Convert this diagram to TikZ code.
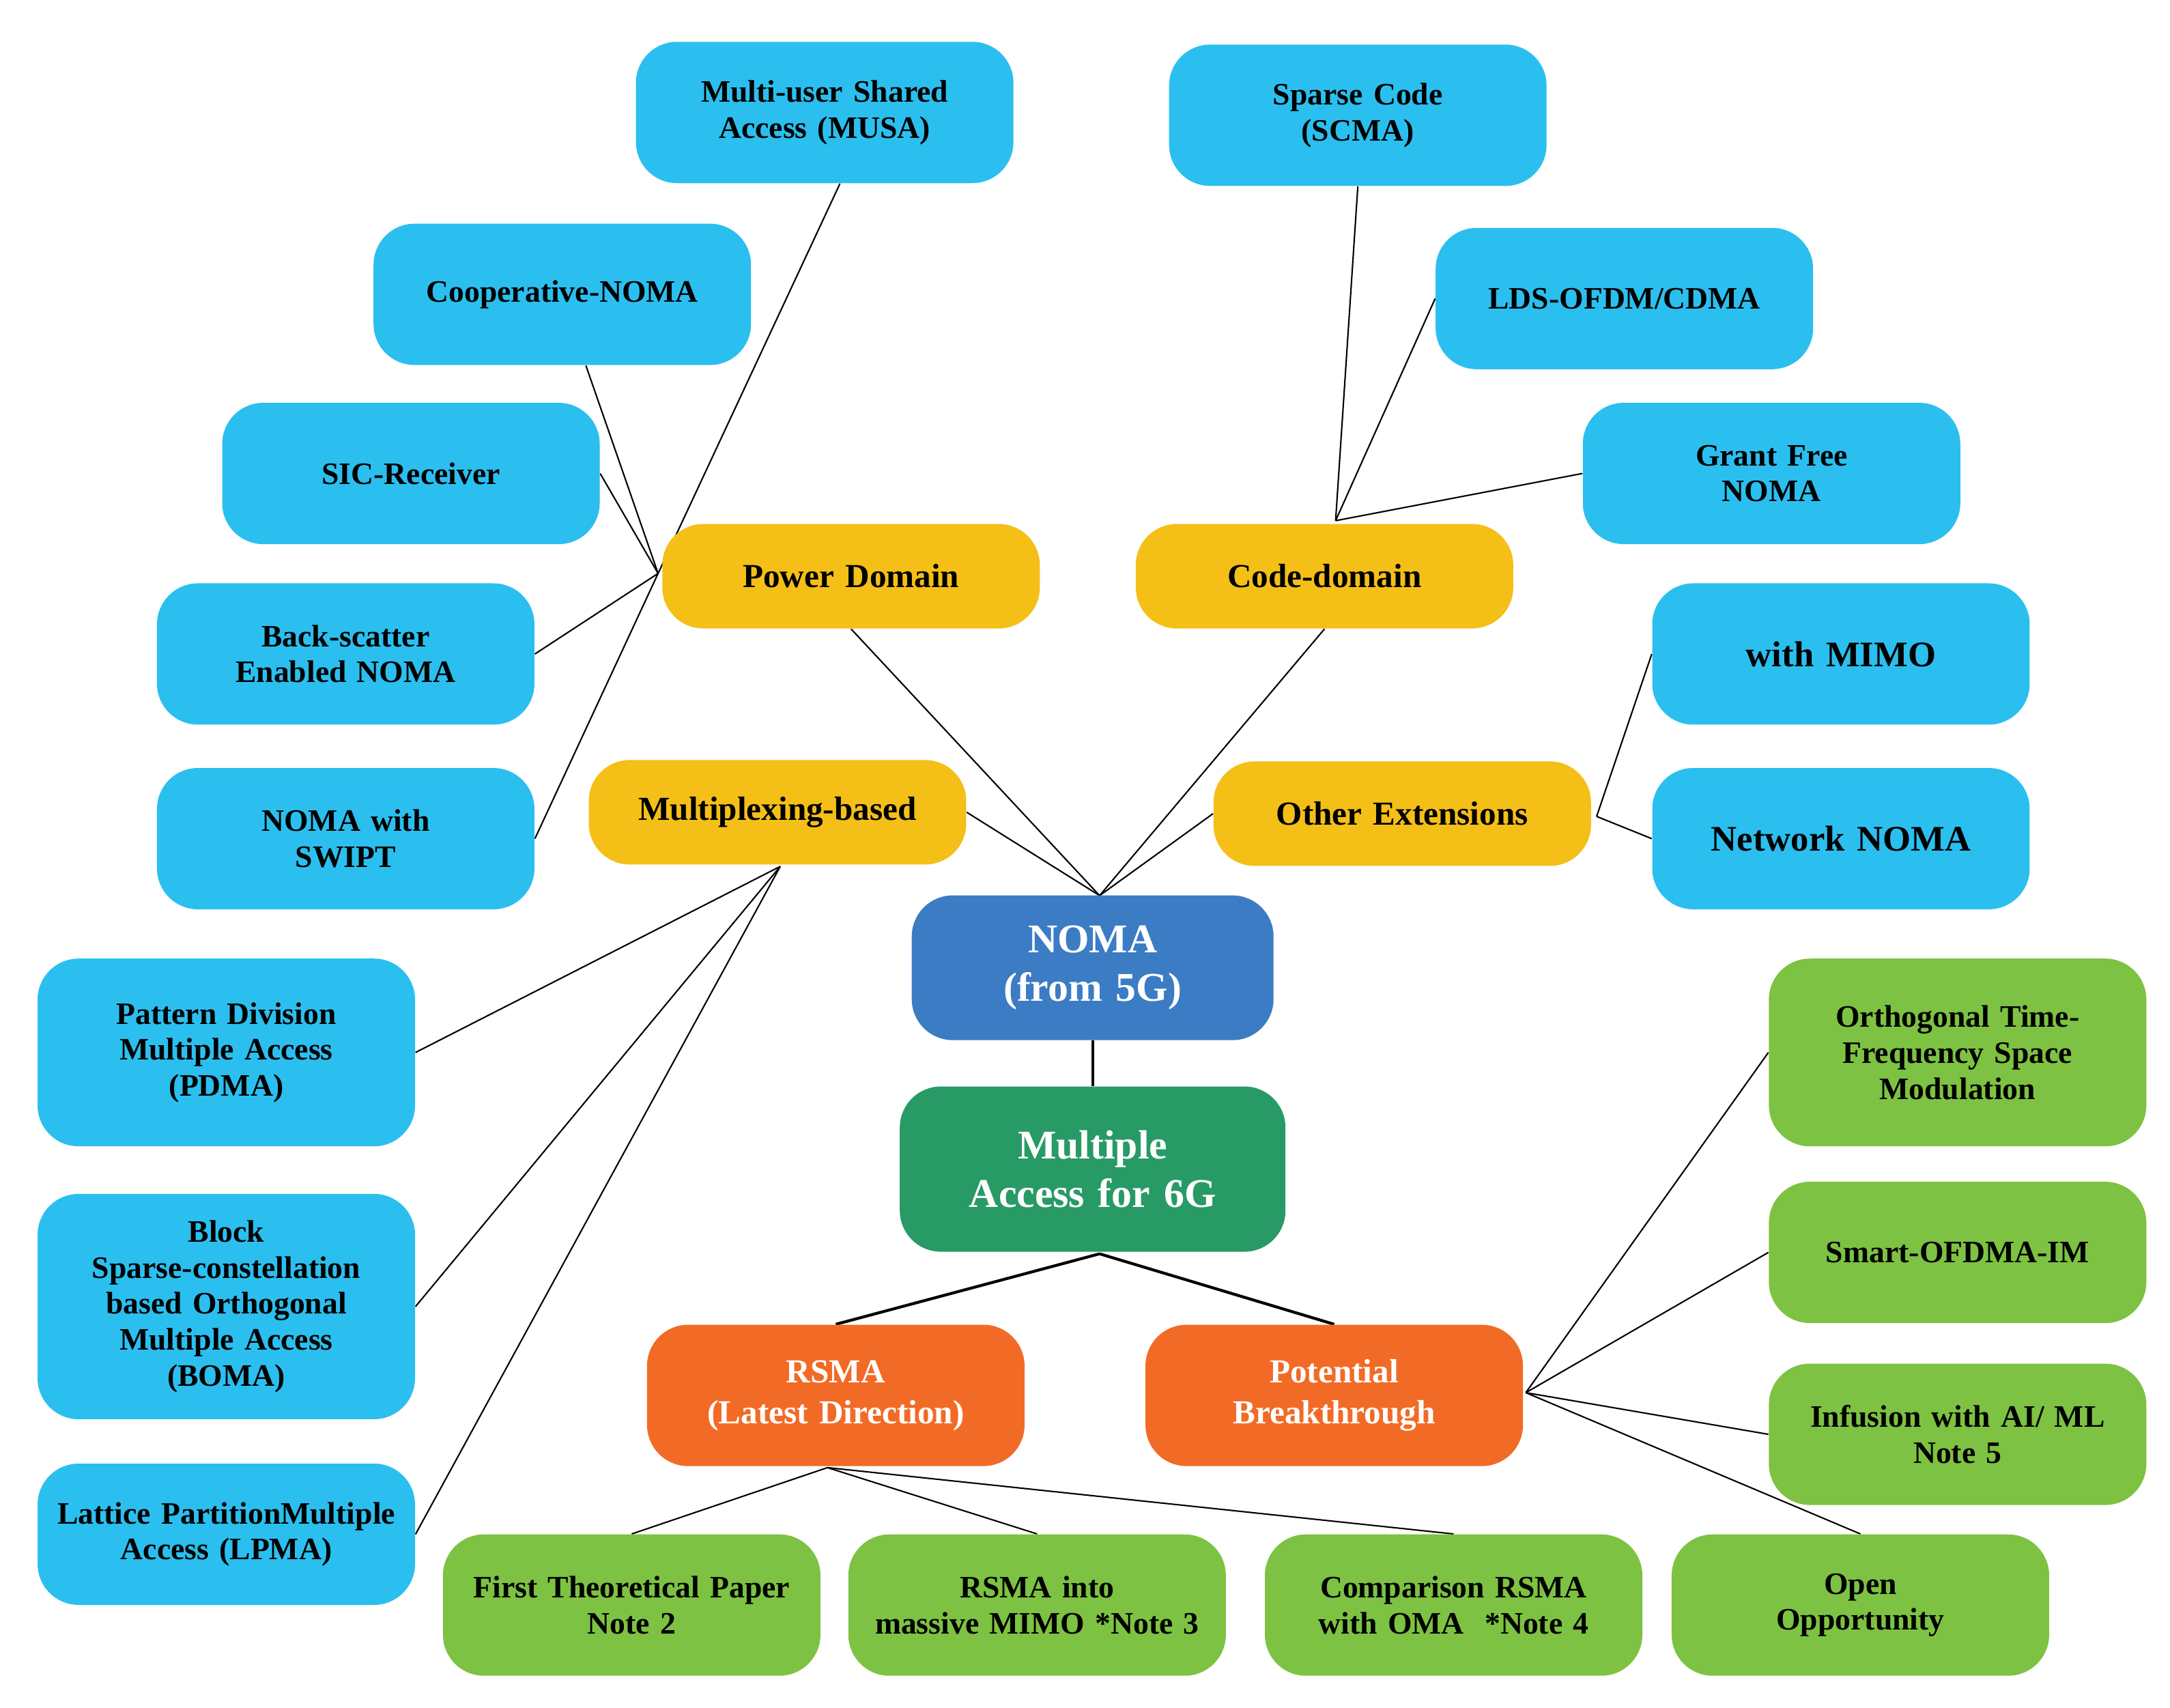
\documentclass[tikz,border=0pt]{standalone}
\usepackage{fontspec}
\setmainfont{Liberation Serif}
\usetikzlibrary{backgrounds}
\definecolor{skyblue}{HTML}{2BBFEF}
\definecolor{gold}{HTML}{F4BF17}
\definecolor{leaf}{HTML}{7DC242}
\definecolor{tangerine}{HTML}{F26B26}
\definecolor{steel}{HTML}{3B7CC4}
\definecolor{jade}{HTML}{289A66}
\begin{document}
\begin{tikzpicture}[x=0.2034mm,y=-0.2034mm,
		box/.style={rounded corners=6mm,inner sep=0pt,minimum width=5.53cm,minimum height=2.07cm,
			text width=5.3cm,align=center,font=\bfseries\fontsize{13}{15}\selectfont},
		leaf box/.style={box,fill=skyblue},
		domain box/.style={box,fill=gold,minimum height=1.53cm,font=\bfseries\fontsize{14}{16}\selectfont},
		green box/.style={box,fill=leaf},
		rsma box/.style={box,fill=tangerine,text=white,font=\bfseries\fontsize{14}{17}\selectfont},
		link/.style={line width=0.6pt}]
		\useasboundingbox (0,0) rectangle (1563,1230);
		% top level
		\node[box,fill=steel,text=white,minimum width=5cm,minimum height=2.12cm,font=\bfseries\fontsize{17}{20}\selectfont] (noma) at (787,697) {NOMA\\(from 5G)};
		\node[box,fill=jade,text=white,minimum width=5.65cm,minimum height=2.42cm,font=\bfseries\fontsize{17}{20}\selectfont] (ma) at (787,842) {Multiple\\Access for 6G};
		% NOMA domains
		\node[domain box] (power) at (613,415) {Power Domain};
		\node[domain box] (code) at (954,415) {Code-domain};
		\node[domain box] (mux) at (560,585) {Multiplexing-based};
		\node[domain box] (other) at (1010,586) {Other Extensions};
		% power domain leaves
		\node[leaf box] (musa) at (594,81) {Multi-user Shared\\Access (MUSA)};
		\node[leaf box] (coop) at (405,212) {Cooperative-NOMA};
		\node[leaf box] (sic) at (296,341) {SIC-Receiver};
		\node[leaf box] (backscatter) at (249,471) {Back-scatter\\Enabled NOMA};
		\node[leaf box] (swipt) at (249,604) {NOMA with\\SWIPT};
		% code domain leaves
		\node[leaf box] (scma) at (978,83) {Sparse Code\\(SCMA)};
		\node[leaf box] (lds) at (1170,215) {LDS-OFDM/CDMA};
		\node[leaf box] (grant) at (1276,341) {Grant Free\\NOMA};
		% other extensions
		\node[leaf box,font=\bfseries\fontsize{15}{17}\selectfont] (mimo) at (1326,471) {with MIMO};
		\node[leaf box,font=\bfseries\fontsize{15}{17}\selectfont] (network) at (1326,604) {Network NOMA};
		% multiplexing leaves
		\node[leaf box,minimum height=2.75cm] (pdma) at (163,758) {Pattern Division\\Multiple Access\\(PDMA)};
		\node[leaf box,minimum height=3.3cm] (boma) at (163,941) {Block\\Sparse-constellation\\based Orthogonal\\Multiple Access\\(BOMA)};
		\node[leaf box] (lpma) at (163,1105) {Lattice PartitionMultiple\\Access (LPMA)};
		% 6G branches
		\node[rsma box] (rsma) at (602,1005) {RSMA\\(Latest Direction)};
		\node[rsma box] (potential) at (961,1005) {Potential\\Breakthrough};
		\node[green box] (first) at (455,1156) {First Theoretical Paper\\*Note 2};
		\node[green box] (massive) at (747,1156) {RSMA into\\massive MIMO *Note 3};
		\node[green box] (compare) at (1047,1156) {Comparison RSMA\\with OMA~~*Note 4};
		\node[green box] (open) at (1340,1156) {Open\\Opportunity};
		\node[green box,minimum height=2.75cm] (otfs) at (1410,758) {Orthogonal Time-\\Frequency Space\\Modulation};
		\node[green box] (smart) at (1410,902) {Smart-OFDMA-IM};
		\node[green box] (ai) at (1410,1033) {Infusion with AI/ ML\\*Note 5};
		% hubs
		\coordinate (powerhub) at (474,413);
		\coordinate (codehub) at (962,375);
		\coordinate (otherhub) at (1150,588);
		\coordinate (nomatop) at (792,645);
		\coordinate (muxhub) at (562,624);
		\coordinate (mahub) at (792,903);
		\coordinate (rsmahub) at (596,1057);
		\coordinate (pothub) at (1099,1003);
		\begin{scope}[on background layer]
			\draw[link] (powerhub) -- (musa.south -| 605,0);
			\draw[link] (powerhub) -- (coop.south -| 422,0);
			\draw[link] (powerhub) -- (sic.east);
			\draw[link] (powerhub) -- (backscatter.east);
			\draw[link] (powerhub) -- (swipt.east);
			\draw[link] (codehub) -- (scma.south);
			\draw[link] (codehub) -- (lds.west);
			\draw[link] (codehub) -- (grant.west);
			\draw[link] (otherhub) -- (mimo.west);
			\draw[link] (otherhub) -- (network.west);
			\draw[link] (nomatop) -- (power.south);
			\draw[link] (nomatop) -- (code.south);
			\draw[link] (nomatop) -- (mux.east);
			\draw[link] (nomatop) -- (other.west);
			\draw[link] (muxhub) -- (pdma.east);
			\draw[link] (muxhub) -- (boma.east);
			\draw[link] (muxhub) -- (lpma.east);
			\draw[line width=1.2pt] (noma) -- (ma);
			\draw[line width=1.2pt] (mahub) -- (rsma.north);
			\draw[line width=1.2pt] (mahub) -- (potential.north);
			\draw[link] (rsmahub) -- (first.north);
			\draw[link] (rsmahub) -- (massive.north);
			\draw[link] (rsmahub) -- (compare.north);
			\draw[link] (pothub) -- (otfs.west);
			\draw[link] (pothub) -- (smart.west);
			\draw[link] (pothub) -- (ai.west);
			\draw[link] (pothub) -- (open.north);
		\end{scope}
	\end{tikzpicture}
\end{document}
